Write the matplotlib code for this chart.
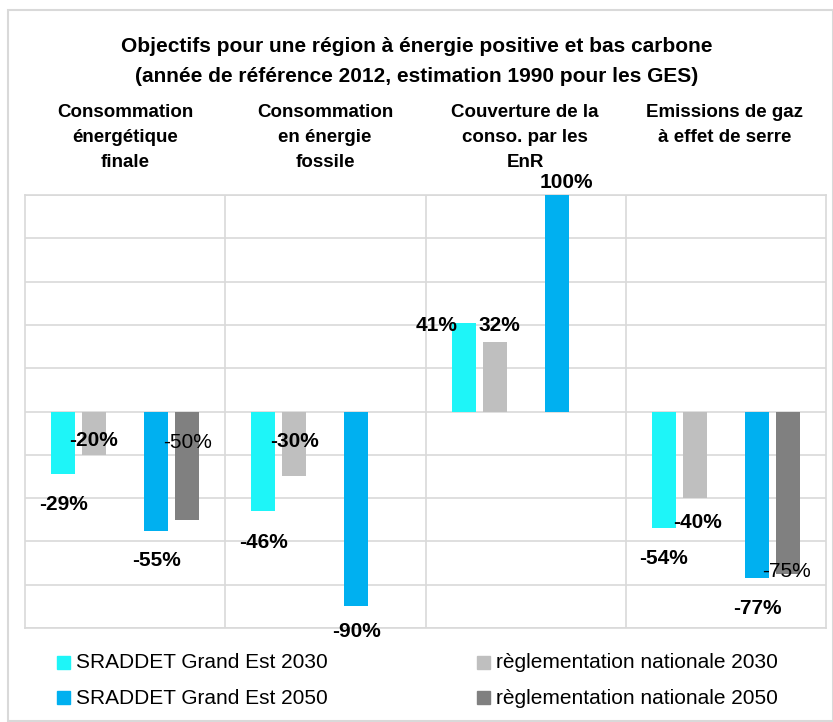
import numpy as np
import matplotlib
matplotlib.use("Agg")
import matplotlib.pyplot as plt
from matplotlib.patches import Rectangle

plt.rcParams['font.family'] = ['Liberation Sans', 'DejaVu Sans']

# Data
categories = ["Consommation\nénergétique\nfinale",
              "Consommation\nen énergie\nfossile",
              "Couverture de la\nconso. par les\nEnR",
              "Emissions de gaz\nà effet de serre"]
series_names = ["SRADDET Grand Est 2030", "règlementation nationale 2030",
                "SRADDET Grand Est 2050", "règlementation nationale 2050"]
sraddet_2030 = [-29, -46, 41, -54]
regl_2030 = [-20, -30, 32, -40]
sraddet_2050 = [-55, -90, 100, -77]
regl_2050 = [-50, np.nan, np.nan, -75]

colors = ["#1EF5F8", "#BFBFBF", "#00B0F0", "#808080"]
slots = [-2, -1, 1, 2]          # a blank slot sits between 2030 and 2050
weights = ["bold", "bold", "bold", "normal"]

# label offsets in pixels (dx right, dy down) from bar end
label_px = [
    [(0, 30), (0, 31), (-27, 3), (0, 30)],
    [(-1, -14), (0, -35), (5, -17), (3, 24)],
    [(0, 30), (0, 25), (10, -12), (0, 30)],
    [(0, -77), (0, 0), (0, 0), (-1, -2)],
]

W, H = 833, 722
fig = plt.figure(figsize=(W / 100, H / 100), dpi=100)
ax = fig.add_axes([25 / W, 1 - 628 / H, 801 / W, 433 / H])

x = np.arange(len(categories))
step, width = 0.155, 0.12
all_series = [sraddet_2030, regl_2030, sraddet_2050, regl_2050]
for s, vals in enumerate(all_series):
    pos = x + slots[s] * step
    ax.bar(pos, vals, width, color=colors[s], zorder=3)
    for i, v in enumerate(vals):
        if np.isnan(v):
            continue
        dx, dy = label_px[s][i]
        ax.annotate(f"{v:.0f}%", (pos[i], v), xytext=(dx * 0.72, -dy * 0.72),
                    textcoords="offset points", ha="center", va="center",
                    fontsize=15, fontweight=weights[s], color="black", zorder=5)

ax.set_xlim(-0.5, 3.5)
ax.set_ylim(-100, 100)
ax.set_yticks(np.arange(-100, 101, 20))
ax.set_xticks([0.5, 1.5, 2.5])
ax.grid(True, color="#D9D9D9", linewidth=1.2, zorder=0)
ax.tick_params(length=0, labelbottom=False, labelleft=False)
for sp in ax.spines.values():
    sp.set_color("#D9D9D9")
    sp.set_linewidth(1.2)

# category headers
for i, c in enumerate(categories):
    fig.text((25 + 100 + 200 * i) / W, 1 - 104 / H, c, ha="center", va="top",
             fontsize=13.5, fontweight="bold", linespacing=1.6)

fig.text(0.5, 1 - 47 / H, "Objectifs pour une région à énergie positive et bas carbone",
         ha="center", va="center", fontsize=15, fontweight="bold")
fig.text(0.5, 1 - 77 / H, "(année de référence 2012, estimation 1990 pour les GES)",
         ha="center", va="center", fontsize=15, fontweight="bold")

# legend
leg_pos = [(57, 663), (477, 663), (57, 698), (477, 698)]
for s, name in enumerate(series_names):
    lx, ly = leg_pos[s]
    fig.add_artist(Rectangle((lx / W, 1 - (ly + 6) / H), 13 / W, 13 / H,
                             transform=fig.transFigure, color=colors[s]))
    fig.text((lx + 19) / W, 1 - ly / H, name, ha="left", va="center", fontsize=15)

# outer border
fig.add_artist(Rectangle((8 / W, 1 / H), (W - 8) / W, (H - 11) / H,
                         transform=fig.transFigure, fill=False,
                         edgecolor="#D9D9D9", linewidth=1.5))

plt.savefig("out.png", dpi=100)
